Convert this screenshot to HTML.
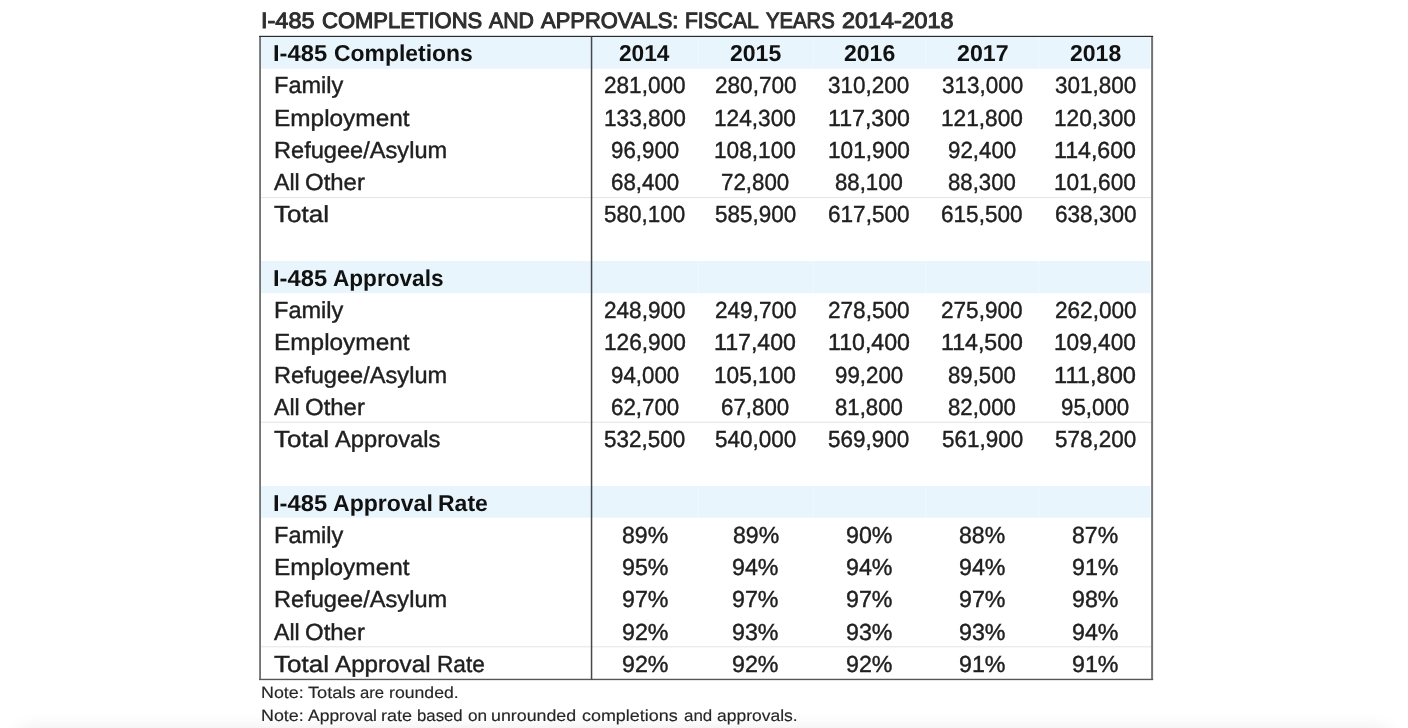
<!DOCTYPE html>
<html lang="en">
<head>
<meta charset="utf-8">
<title>I-485 Completions and Approvals: Fiscal Years 2014-2018</title>
<style>
html,body{margin:0;padding:0;background:#fff;}
body{width:1408px;height:728px;position:relative;overflow:hidden;font-family:"Liberation Sans",sans-serif;}
.t{position:absolute;white-space:nowrap;transform-origin:0 0;display:block;text-rendering:geometricPrecision;}

.tt{font-size:22.2px;line-height:25px;color:#2e2e2e;-webkit-text-stroke:1.0px #2e2e2e;}
.b{font-size:23.0px;line-height:26px;color:#111;font-weight:bold;}
.r{font-size:23.2px;line-height:26px;color:#202020;-webkit-text-stroke:0.4px #202020;}
.nt{font-size:16.2px;line-height:18px;color:#262626;-webkit-text-stroke:0.15px #262626;}

.shade{position:absolute;left:22px;width:1364px;top:730px;height:30px;background:#eee;box-shadow:0 0 18px 2px rgba(0,0,0,0.075);}
svg.lines{position:absolute;left:0;top:0;}
</style>
</head>
<body>
<div class="shade"></div>
<svg class="lines" width="1408" height="728" viewBox="0 0 1408 728">
<g fill="#e9f5fd">
<rect x="260.5" y="36.5" width="889.9" height="32.3"/>
<rect x="260.5" y="261" width="889.9" height="32.2"/>
<rect x="260.5" y="486" width="889.9" height="31.7"/>
</g>
<g fill="#eef8fe">
<rect x="697.9" y="37" width="1" height="31.6"/><rect x="812.6" y="37" width="1" height="31.6"/><rect x="925.3" y="37" width="1" height="31.6"/><rect x="1038.6" y="37" width="1" height="31.6"/>
<rect x="697.9" y="261.2" width="1" height="31.8"/><rect x="812.6" y="261.2" width="1" height="31.8"/><rect x="925.3" y="261.2" width="1" height="31.8"/><rect x="1038.6" y="261.2" width="1" height="31.8"/>
<rect x="697.9" y="486.2" width="1" height="31.3"/><rect x="812.6" y="486.2" width="1" height="31.3"/><rect x="925.3" y="486.2" width="1" height="31.3"/><rect x="1038.6" y="486.2" width="1" height="31.3"/>
</g>
<g fill="#e4e4e4">
<rect x="261" y="197.1" width="890" height="1"/>
<rect x="261" y="421.75" width="890" height="1"/>
<rect x="261" y="646.3" width="890" height="1"/>
</g>
<rect x="259.15" y="36" width="1.85" height="644" fill="#727374"/>
<rect x="1151.1" y="36" width="2.0" height="644" fill="#727374"/>
<rect x="259.15" y="678.75" width="893.95" height="1.4" fill="#565758"/>
<rect x="259.15" y="35.8" width="893.95" height="1.2" fill="#2a2d2e"/>
<rect x="590.8" y="36.5" width="1.5" height="643" fill="#45484b"/>
</svg>
<div class="g">
<span class="t tt" style="left:261.39px;top:8px;transform:scaleX(1.0579)">I-485</span> 
<span class="t tt" style="left:321.81px;top:8px;transform:scaleX(0.9921)">COMPLETIONS</span> 
<span class="t tt" style="left:488.98px;top:8px;transform:scaleX(0.9596)">AND</span> 
<span class="t tt" style="left:540.94px;top:8px;transform:scaleX(0.9895)">APPROVALS:</span> 
<span class="t tt" style="left:685.03px;top:8px;transform:scaleX(0.9485)">FISCAL</span> 
<span class="t tt" style="left:766.24px;top:8px;transform:scaleX(0.9136)">YEARS</span> 
<span class="t tt" style="left:841.83px;top:8px;transform:scaleX(1.0511)">2014-2018</span> 
</div>
<div class="g">
<span class="t b" style="left:272.91px;top:40px;transform:scaleX(1.0335)">I-485</span> 
<span class="t b" style="left:333.98px;top:40px;transform:scaleX(0.9962)">Completions</span> 
</div>
<div class="g">
<span class="t b" style="left:272.91px;top:265px;transform:scaleX(1.0335)">I-485</span> 
<span class="t b" style="left:333.15px;top:265px;transform:scaleX(0.9822)">Approvals</span> 
</div>
<div class="g">
<span class="t b" style="left:272.91px;top:490px;transform:scaleX(1.0335)">I-485</span> 
<span class="t b" style="left:333.14px;top:490px;transform:scaleX(1.0014)">Approval</span> 
<span class="t b" style="left:437.96px;top:490px;transform:scaleX(1.0002)">Rate</span> 
</div>
<div class="g">
<span class="t b" style="left:619.44px;top:40px;transform:scaleX(0.9863)">2014</span> 
</div>
<div class="g">
<span class="t b" style="left:730.13px;top:40px;transform:scaleX(1.0005)">2015</span> 
</div>
<div class="g">
<span class="t b" style="left:843.53px;top:40px;transform:scaleX(1.0005)">2016</span> 
</div>
<div class="g">
<span class="t b" style="left:956.63px;top:40px;transform:scaleX(1.0078)">2017</span> 
</div>
<div class="g">
<span class="t b" style="left:1069.93px;top:40px;transform:scaleX(1.0005)">2018</span> 
</div>
<div class="g">
<span class="t r" style="left:273.56px;top:72px;transform:scaleX(1.0150)">Family</span> 
</div>
<div class="g">
<span class="t r" style="left:604.04px;top:72px;transform:scaleX(0.9734)">281,000</span> 
</div>
<div class="g">
<span class="t r" style="left:714.74px;top:72px;transform:scaleX(0.9734)">280,700</span> 
</div>
<div class="g">
<span class="t r" style="left:828.49px;top:72px;transform:scaleX(0.9691)">310,200</span> 
</div>
<div class="g">
<span class="t r" style="left:941.59px;top:72px;transform:scaleX(0.9691)">313,000</span> 
</div>
<div class="g">
<span class="t r" style="left:1054.89px;top:72px;transform:scaleX(0.9691)">301,800</span> 
</div>
<div class="g">
<span class="t r" style="left:273.50px;top:105px;transform:scaleX(1.0517)">Employment</span> 
</div>
<div class="g">
<span class="t r" style="left:603.68px;top:105px;transform:scaleX(0.9777)">133,800</span> 
</div>
<div class="g">
<span class="t r" style="left:714.38px;top:105px;transform:scaleX(0.9777)">124,300</span> 
</div>
<div class="g">
<span class="t r" style="left:827.75px;top:105px;transform:scaleX(0.9986)">117,300</span> 
</div>
<div class="g">
<span class="t r" style="left:940.88px;top:105px;transform:scaleX(0.9777)">121,800</span> 
</div>
<div class="g">
<span class="t r" style="left:1054.18px;top:105px;transform:scaleX(0.9777)">120,300</span> 
</div>
<div class="g">
<span class="t r" style="left:273.56px;top:137px;transform:scaleX(1.0179)">Refugee/Asylum</span> 
</div>
<div class="g">
<span class="t r" style="left:610.75px;top:137px;transform:scaleX(0.9613)">96,900</span> 
</div>
<div class="g">
<span class="t r" style="left:714.38px;top:137px;transform:scaleX(0.9777)">108,100</span> 
</div>
<div class="g">
<span class="t r" style="left:827.78px;top:137px;transform:scaleX(0.9777)">101,900</span> 
</div>
<div class="g">
<span class="t r" style="left:947.95px;top:137px;transform:scaleX(0.9613)">92,400</span> 
</div>
<div class="g">
<span class="t r" style="left:1054.15px;top:137px;transform:scaleX(0.9986)">114,600</span> 
</div>
<div class="g">
<span class="t r" style="left:274.00px;top:169px;transform:scaleX(0.9978)">All</span> 
<span class="t r" style="left:305.18px;top:169px;transform:scaleX(1.0328)">Other</span> 
</div>
<div class="g">
<span class="t r" style="left:610.75px;top:169px;transform:scaleX(0.9613)">68,400</span> 
</div>
<div class="g">
<span class="t r" style="left:721.45px;top:169px;transform:scaleX(0.9613)">72,800</span> 
</div>
<div class="g">
<span class="t r" style="left:835.20px;top:169px;transform:scaleX(0.9564)">88,100</span> 
</div>
<div class="g">
<span class="t r" style="left:948.30px;top:169px;transform:scaleX(0.9564)">88,300</span> 
</div>
<div class="g">
<span class="t r" style="left:1054.18px;top:169px;transform:scaleX(0.9777)">101,600</span> 
</div>
<div class="g">
<span class="t r" style="left:273.92px;top:201px;transform:scaleX(1.1218)">Total</span> 
</div>
<div class="g">
<span class="t r" style="left:604.39px;top:201px;transform:scaleX(0.9691)">580,100</span> 
</div>
<div class="g">
<span class="t r" style="left:715.09px;top:201px;transform:scaleX(0.9691)">585,900</span> 
</div>
<div class="g">
<span class="t r" style="left:828.14px;top:201px;transform:scaleX(0.9734)">617,500</span> 
</div>
<div class="g">
<span class="t r" style="left:941.24px;top:201px;transform:scaleX(0.9734)">615,500</span> 
</div>
<div class="g">
<span class="t r" style="left:1054.54px;top:201px;transform:scaleX(0.9734)">638,300</span> 
</div>
<div class="g">
<span class="t r" style="left:273.56px;top:297px;transform:scaleX(1.0150)">Family</span> 
</div>
<div class="g">
<span class="t r" style="left:604.04px;top:297px;transform:scaleX(0.9734)">248,900</span> 
</div>
<div class="g">
<span class="t r" style="left:714.74px;top:297px;transform:scaleX(0.9734)">249,700</span> 
</div>
<div class="g">
<span class="t r" style="left:828.14px;top:297px;transform:scaleX(0.9734)">278,500</span> 
</div>
<div class="g">
<span class="t r" style="left:941.24px;top:297px;transform:scaleX(0.9734)">275,900</span> 
</div>
<div class="g">
<span class="t r" style="left:1054.54px;top:297px;transform:scaleX(0.9734)">262,000</span> 
</div>
<div class="g">
<span class="t r" style="left:273.50px;top:329px;transform:scaleX(1.0517)">Employment</span> 
</div>
<div class="g">
<span class="t r" style="left:603.68px;top:329px;transform:scaleX(0.9777)">126,900</span> 
</div>
<div class="g">
<span class="t r" style="left:714.35px;top:329px;transform:scaleX(0.9986)">117,400</span> 
</div>
<div class="g">
<span class="t r" style="left:827.75px;top:329px;transform:scaleX(0.9986)">110,400</span> 
</div>
<div class="g">
<span class="t r" style="left:940.85px;top:329px;transform:scaleX(0.9986)">114,500</span> 
</div>
<div class="g">
<span class="t r" style="left:1054.18px;top:329px;transform:scaleX(0.9777)">109,400</span> 
</div>
<div class="g">
<span class="t r" style="left:273.56px;top:362px;transform:scaleX(1.0179)">Refugee/Asylum</span> 
</div>
<div class="g">
<span class="t r" style="left:610.75px;top:362px;transform:scaleX(0.9613)">94,000</span> 
</div>
<div class="g">
<span class="t r" style="left:714.38px;top:362px;transform:scaleX(0.9777)">105,100</span> 
</div>
<div class="g">
<span class="t r" style="left:834.85px;top:362px;transform:scaleX(0.9613)">99,200</span> 
</div>
<div class="g">
<span class="t r" style="left:948.30px;top:362px;transform:scaleX(0.9564)">89,500</span> 
</div>
<div class="g">
<span class="t r" style="left:1054.12px;top:362px;transform:scaleX(1.0204)">111,800</span> 
</div>
<div class="g">
<span class="t r" style="left:274.00px;top:394px;transform:scaleX(0.9978)">All</span> 
<span class="t r" style="left:305.18px;top:394px;transform:scaleX(1.0328)">Other</span> 
</div>
<div class="g">
<span class="t r" style="left:610.75px;top:394px;transform:scaleX(0.9613)">62,700</span> 
</div>
<div class="g">
<span class="t r" style="left:721.45px;top:394px;transform:scaleX(0.9613)">67,800</span> 
</div>
<div class="g">
<span class="t r" style="left:835.20px;top:394px;transform:scaleX(0.9564)">81,800</span> 
</div>
<div class="g">
<span class="t r" style="left:948.30px;top:394px;transform:scaleX(0.9564)">82,000</span> 
</div>
<div class="g">
<span class="t r" style="left:1061.25px;top:394px;transform:scaleX(0.9613)">95,000</span> 
</div>
<div class="g">
<span class="t r" style="left:273.92px;top:426px;transform:scaleX(1.1218)">Total</span> 
<span class="t r" style="left:335.00px;top:426px;transform:scaleX(1.0220)">Approvals</span> 
</div>
<div class="g">
<span class="t r" style="left:604.39px;top:426px;transform:scaleX(0.9691)">532,500</span> 
</div>
<div class="g">
<span class="t r" style="left:715.09px;top:426px;transform:scaleX(0.9691)">540,000</span> 
</div>
<div class="g">
<span class="t r" style="left:828.49px;top:426px;transform:scaleX(0.9691)">569,900</span> 
</div>
<div class="g">
<span class="t r" style="left:941.59px;top:426px;transform:scaleX(0.9691)">561,900</span> 
</div>
<div class="g">
<span class="t r" style="left:1054.89px;top:426px;transform:scaleX(0.9691)">578,200</span> 
</div>
<div class="g">
<span class="t r" style="left:273.56px;top:522px;transform:scaleX(1.0150)">Family</span> 
</div>
<div class="g">
<span class="t r" style="left:621.98px;top:522px;transform:scaleX(0.9952)">89%</span> 
</div>
<div class="g">
<span class="t r" style="left:732.68px;top:522px;transform:scaleX(0.9952)">89%</span> 
</div>
<div class="g">
<span class="t r" style="left:845.71px;top:522px;transform:scaleX(1.0032)">90%</span> 
</div>
<div class="g">
<span class="t r" style="left:959.18px;top:522px;transform:scaleX(0.9952)">88%</span> 
</div>
<div class="g">
<span class="t r" style="left:1072.48px;top:522px;transform:scaleX(0.9952)">87%</span> 
</div>
<div class="g">
<span class="t r" style="left:273.50px;top:554px;transform:scaleX(1.0517)">Employment</span> 
</div>
<div class="g">
<span class="t r" style="left:621.61px;top:554px;transform:scaleX(1.0032)">95%</span> 
</div>
<div class="g">
<span class="t r" style="left:732.31px;top:554px;transform:scaleX(1.0032)">94%</span> 
</div>
<div class="g">
<span class="t r" style="left:845.71px;top:554px;transform:scaleX(1.0032)">94%</span> 
</div>
<div class="g">
<span class="t r" style="left:958.81px;top:554px;transform:scaleX(1.0032)">94%</span> 
</div>
<div class="g">
<span class="t r" style="left:1072.11px;top:554px;transform:scaleX(1.0032)">91%</span> 
</div>
<div class="g">
<span class="t r" style="left:273.56px;top:586px;transform:scaleX(1.0179)">Refugee/Asylum</span> 
</div>
<div class="g">
<span class="t r" style="left:621.61px;top:586px;transform:scaleX(1.0032)">97%</span> 
</div>
<div class="g">
<span class="t r" style="left:732.31px;top:586px;transform:scaleX(1.0032)">97%</span> 
</div>
<div class="g">
<span class="t r" style="left:845.71px;top:586px;transform:scaleX(1.0032)">97%</span> 
</div>
<div class="g">
<span class="t r" style="left:958.81px;top:586px;transform:scaleX(1.0032)">97%</span> 
</div>
<div class="g">
<span class="t r" style="left:1072.11px;top:586px;transform:scaleX(1.0032)">98%</span> 
</div>
<div class="g">
<span class="t r" style="left:274.00px;top:619px;transform:scaleX(0.9978)">All</span> 
<span class="t r" style="left:305.18px;top:619px;transform:scaleX(1.0328)">Other</span> 
</div>
<div class="g">
<span class="t r" style="left:621.61px;top:619px;transform:scaleX(1.0032)">92%</span> 
</div>
<div class="g">
<span class="t r" style="left:732.31px;top:619px;transform:scaleX(1.0032)">93%</span> 
</div>
<div class="g">
<span class="t r" style="left:845.71px;top:619px;transform:scaleX(1.0032)">93%</span> 
</div>
<div class="g">
<span class="t r" style="left:958.81px;top:619px;transform:scaleX(1.0032)">93%</span> 
</div>
<div class="g">
<span class="t r" style="left:1072.11px;top:619px;transform:scaleX(1.0032)">94%</span> 
</div>
<div class="g">
<span class="t r" style="left:273.92px;top:651px;transform:scaleX(1.1218)">Total</span> 
<span class="t r" style="left:335.01px;top:651px;transform:scaleX(1.0438)">Approval</span> 
<span class="t r" style="left:436.62px;top:651px;transform:scaleX(0.9774)">Rate</span> 
</div>
<div class="g">
<span class="t r" style="left:621.61px;top:651px;transform:scaleX(1.0032)">92%</span> 
</div>
<div class="g">
<span class="t r" style="left:732.31px;top:651px;transform:scaleX(1.0032)">92%</span> 
</div>
<div class="g">
<span class="t r" style="left:845.71px;top:651px;transform:scaleX(1.0032)">92%</span> 
</div>
<div class="g">
<span class="t r" style="left:958.81px;top:651px;transform:scaleX(1.0032)">91%</span> 
</div>
<div class="g">
<span class="t r" style="left:1072.11px;top:651px;transform:scaleX(1.0032)">91%</span> 
</div>
<div class="g">
<span class="t nt" style="left:260.99px;top:684px;transform:scaleX(1.1040)">Note:</span> 
<span class="t nt" style="left:307.60px;top:684px;transform:scaleX(1.1268)">Totals</span> 
<span class="t nt" style="left:359.96px;top:684px;transform:scaleX(1.0312)">are</span> 
<span class="t nt" style="left:389.08px;top:684px;transform:scaleX(1.0904)">rounded.</span> 
</div>
<div class="g">
<span class="t nt" style="left:260.99px;top:707px;transform:scaleX(1.1040)">Note:</span> 
<span class="t nt" style="left:307.83px;top:707px;transform:scaleX(1.0798)">Approval</span> 
<span class="t nt" style="left:381.46px;top:707px;transform:scaleX(1.1138)">rate</span> 
<span class="t nt" style="left:417.43px;top:707px;transform:scaleX(1.0362)">based</span> 
<span class="t nt" style="left:468.04px;top:707px;transform:scaleX(1.0625)">on</span> 
<span class="t nt" style="left:491.47px;top:707px;transform:scaleX(1.1004)">unrounded</span> 
<span class="t nt" style="left:582.32px;top:707px;transform:scaleX(1.1077)">completions</span> 
<span class="t nt" style="left:683.70px;top:707px;transform:scaleX(1.0461)">and</span> 
<span class="t nt" style="left:717.43px;top:707px;transform:scaleX(1.0792)">approvals.</span> 
</div>
</body>
</html>
